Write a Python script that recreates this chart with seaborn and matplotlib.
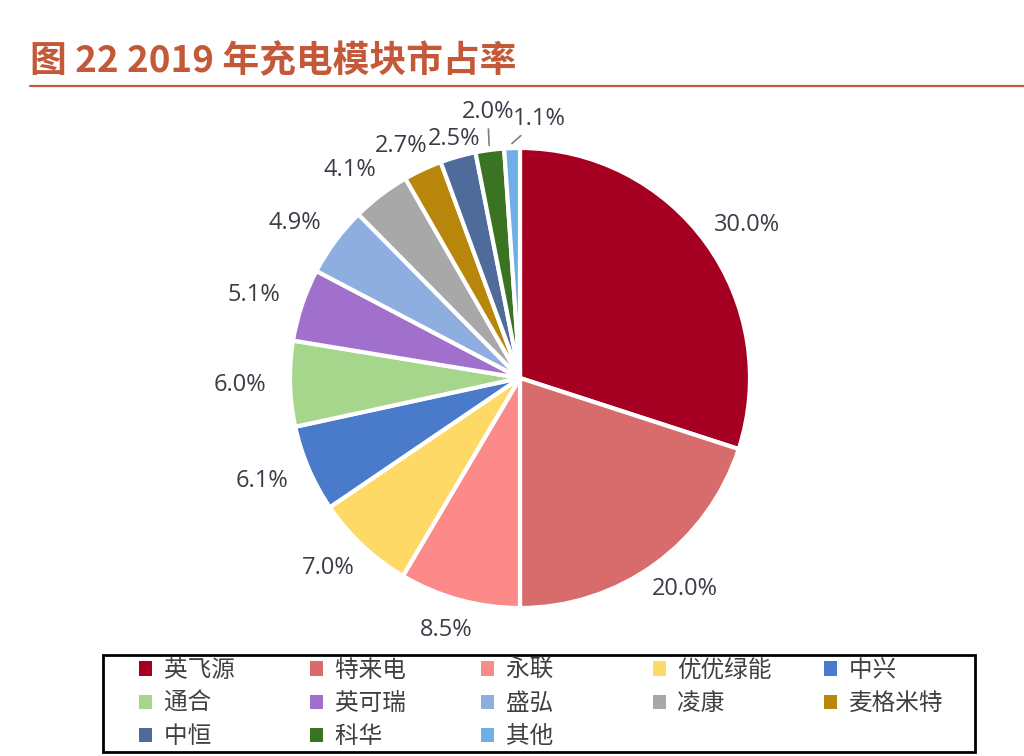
import numpy as np
import matplotlib
matplotlib.use("Agg")
import matplotlib.pyplot as plt
from matplotlib.patches import Patch, Rectangle
from matplotlib.lines import Line2D
import seaborn as sns

companies = ["英飞源", "特来电", "永联", "优优绿能", "中兴", "通合", "英可瑞",
             "盛弘", "凌康", "麦格米特", "中恒", "科华", "其他"]
shares = [30.0, 20.0, 8.5, 7.0, 6.1, 6.0, 5.1, 4.9, 4.1, 2.7, 2.5, 2.0, 1.1]
colors = ["#A50021", "#D86C6C", "#FB8A88", "#FFD966", "#4A7BCB", "#A6D68C",
          "#A070CC", "#8EAEDF", "#A8A8A8", "#B8860B", "#4F6B9A", "#3A7422", "#6FAEE6"]
title = "图 22 2019 年充电模块市占率"

sns.set_theme(style="white")
plt.rcParams["font.family"] = ["Noto Sans CJK SC", "DejaVu Sans"]

W, H = 1024, 756
fig = plt.figure(figsize=(W / 100, H / 100), dpi=100)
fig.patch.set_facecolor("white")

# title and rule
title_color = "#C4593A"
fig.text(30 / W, 1 - 62 / H, title, fontsize=26.5, fontweight="bold",
         color=title_color, va="center", ha="left")
fig.add_artist(Line2D([30 / W, 1.0], [1 - 86 / H] * 2, color=title_color, lw=1.6))

# pie axes
R = 230
cx, cy = 520, 378
ax = fig.add_axes([(cx - R) / W, (H - cy - R) / H, 2 * R / W, 2 * R / H])
palette = sns.color_palette(colors)
wedges, _ = ax.pie(shares, colors=palette, startangle=90, counterclock=False,
                   wedgeprops=dict(edgecolor="white", linewidth=3))
ax.set_xlim(-1, 1)
ax.set_ylim(-1, 1)
ax.set_aspect("equal")
ax.axis("off")

label_color = "#3C3C48"
label_font = ["Open Sans", "DejaVu Sans"]
fs = 17
# small nudges for the crowded labels at the top
nudges = {9: (0.0, -0.02), 10: (0.045, -0.055), 11: (0.02, 0.03), 12: (0.125, -0.01)}
leader = {11, 12}
hw, hh = 0.13, 0.045  # approx half label width/height in radius units
for i, (w, v) in enumerate(zip(wedges, shares)):
    ang = np.deg2rad((w.theta1 + w.theta2) / 2)
    c, s = np.cos(ang), np.sin(ang)
    dx, dy = nudges.get(i, (0, 0))
    tx = 1.09 * c + hw * c + dx
    ty = 1.09 * s + hh * s + dy
    txt = f"{v:.1f}%"
    if i in leader:
        ax.annotate(txt, xy=(1.02 * c, 1.02 * s), xytext=(tx, ty),
                    ha="center", va="center", fontsize=fs, color=label_color,
                    family=label_font, annotation_clip=False,
                    arrowprops=dict(arrowstyle="-", color="#7F7F7F", lw=1.2,
                                    shrinkA=1, shrinkB=0))
    else:
        ax.text(tx, ty, txt, ha="center", va="center", fontsize=fs, color=label_color,
                family=label_font, clip_on=False)

# legend box
bx0, bx1, by0, by1 = 103, 975, 655, 752
fig.add_artist(Rectangle((bx0 / W, 1 - by1 / H), (bx1 - bx0) / W, (by1 - by0) / H,
                         transform=fig.transFigure, facecolor="white",
                         edgecolor="black", linewidth=2, zorder=0))

# legend: reorder so the column-major fill reads row by row
ncol = 5
nrow = int(np.ceil(len(companies) / ncol))
order = [r * ncol + col for col in range(ncol) for r in range(nrow)
         if r * ncol + col < len(companies)]
handles = [Patch(facecolor=palette[k], edgecolor="none") for k in order]
labels = [companies[k] + "\u3000" * (4 - len(companies[k])) for k in order]
leg = fig.legend(handles, labels, ncol=ncol, loc="center",
                 bbox_to_anchor=((bx0 + bx1) / 2 / W + 2 / W, 1 - (by0 + by1) / 2 / H),
                 fontsize=17, frameon=False,
                 handlelength=0.55, handleheight=0.55,
                 handletextpad=0.5, labelspacing=0.43, columnspacing=2.2,
                 borderpad=0)
for t in leg.get_texts():
    t.set_color("#404040")

fig.savefig("out.png", dpi=100, facecolor="white")
